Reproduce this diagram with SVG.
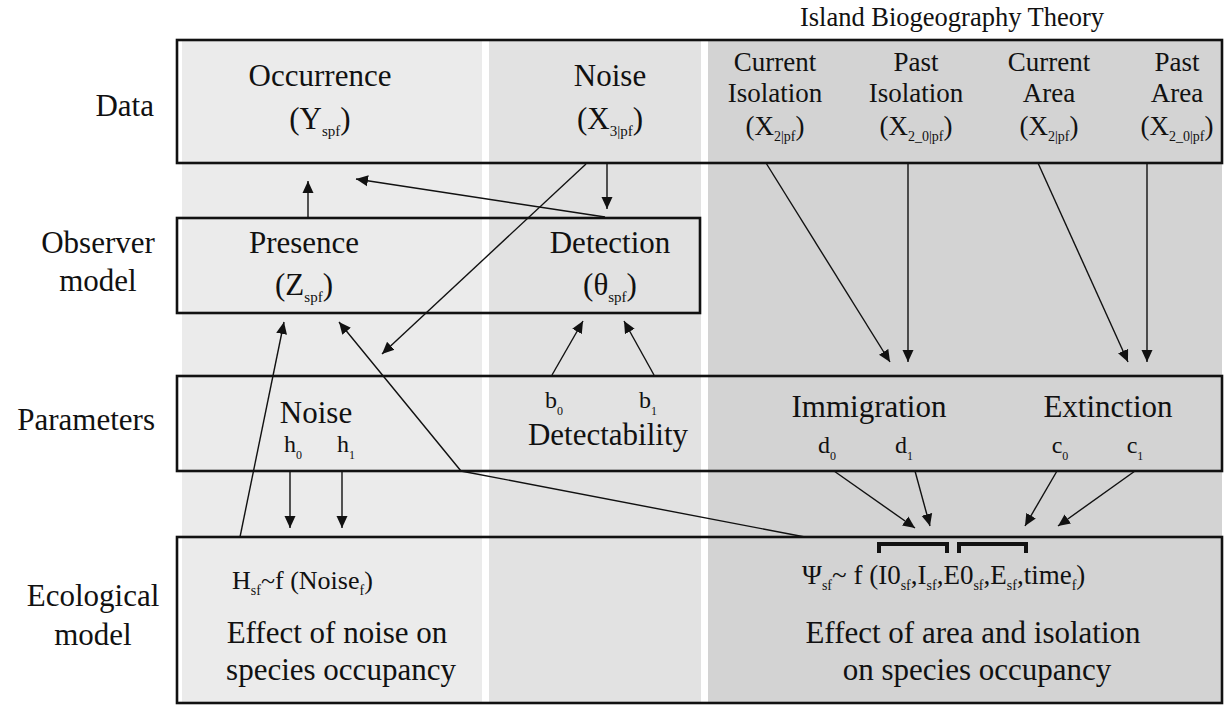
<svg xmlns="http://www.w3.org/2000/svg" width="1225" height="706" viewBox="0 0 1225 706">
<style>
text{font-family:"Liberation Serif","Times New Roman",serif;fill:#111}
.L{font-size:31px}
.M{font-size:27px}
.S{font-size:26.5px}
.F{font-size:26px}
.G{font-size:27px}
.P{font-size:24px}
.s1{font-size:15px}
.s2{font-size:14px}
.s3{font-size:12px}
.mid{text-anchor:middle}
.end{text-anchor:end}
.box{fill:none;stroke:#111;stroke-width:2.6}
.c{fill:none;stroke:#111;stroke-width:1.4}
.br{fill:none;stroke:#111;stroke-width:4}
</style>
<defs>
<marker id="ah" markerUnits="userSpaceOnUse" markerWidth="12" markerHeight="12" refX="12" refY="6" orient="auto"><path d="M0,0.5 L12,6 L0,11.5 z" fill="#111"/></marker>
</defs>
<rect width="1225" height="706" fill="#fff"/>
<g id="columns">
<rect x="182" y="40" width="300" height="663" fill="#ebebeb"/>
<rect x="489" y="40" width="212" height="663" fill="#e2e2e2"/>
<rect x="708" y="40" width="514" height="663" fill="#d3d3d3"/>
</g>
<g id="row-labels">
<text class="L end" x="154" y="116">Data</text>
<text class="L mid" x="98" y="253">Observer</text>
<text class="L mid" x="98" y="291">model</text>
<text class="L end" x="155" y="430">Parameters</text>
<text class="L mid" x="93" y="606">Ecological</text>
<text class="L mid" x="93" y="645">model</text>
</g>
<g id="ibt-title"><text class="S mid" x="952" y="26">Island Biogeography Theory</text></g>
<g id="data">
<rect class="box" x="177" y="40" width="1045" height="123"/>
<g id="occurrence">
<text class="L mid" x="320" y="86">Occurrence</text>
<text class="L mid" x="320" y="129">(Y<tspan class="s1" dy="7">spf</tspan><tspan dy="-7">)</tspan></text>
</g>
<g id="noise-data">
<text class="L mid" x="610" y="86">Noise</text>
<text class="L mid" x="610" y="129">(X<tspan class="s1" dy="7">3|pf</tspan><tspan dy="-7">)</tspan></text>
</g>
<g id="current-isolation">
<text class="M mid" x="775" y="71">Current</text>
<text class="M mid" x="775" y="102">Isolation</text>
<text class="M mid" x="775" y="135">(X<tspan class="s2" dy="6">2|pf</tspan><tspan dy="-6">)</tspan></text>
</g>
<g id="past-isolation">
<text class="M mid" x="916" y="71">Past</text>
<text class="M mid" x="916" y="102">Isolation</text>
<text class="M mid" x="916" y="135">(X<tspan class="s2" dy="6">2_0|pf</tspan><tspan dy="-6">)</tspan></text>
</g>
<g id="current-area">
<text class="M mid" x="1049" y="71">Current</text>
<text class="M mid" x="1049" y="102">Area</text>
<text class="M mid" x="1049" y="135">(X<tspan class="s2" dy="6">2|pf</tspan><tspan dy="-6">)</tspan></text>
</g>
<g id="past-area">
<text class="M mid" x="1177" y="71">Past</text>
<text class="M mid" x="1177" y="102">Area</text>
<text class="M mid" x="1177" y="135">(X<tspan class="s2" dy="6">2_0|pf</tspan><tspan dy="-6">)</tspan></text>
</g>
</g>
<g id="observer">
<rect class="box" x="177" y="218" width="523" height="95"/>
<g id="presence">
<text class="L mid" x="304" y="253">Presence</text>
<text class="L mid" x="304" y="295">(Z<tspan class="s1" dy="7">spf</tspan><tspan dy="-7">)</tspan></text>
</g>
<g id="detection">
<text class="L mid" x="610" y="253">Detection</text>
<text class="L mid" x="610" y="295">(θ<tspan class="s1" dy="7">spf</tspan><tspan dy="-7">)</tspan></text>
</g>
</g>
<g id="parameters">
<rect class="box" x="177" y="376" width="1045" height="95"/>
<g id="noise-param">
<text class="L mid" x="316" y="423">Noise</text>
<text class="P mid" x="293" y="452">h<tspan class="s3" dy="7">0</tspan></text>
<text class="P mid" x="346" y="452">h<tspan class="s3" dy="7">1</tspan></text>
</g>
<g id="detectability">
<text class="P mid" x="554" y="408">b<tspan class="s3" dy="7">0</tspan></text>
<text class="P mid" x="648" y="408">b<tspan class="s3" dy="7">1</tspan></text>
<text class="L mid" x="608" y="445">Detectability</text>
</g>
<g id="immigration">
<text class="L mid" x="869" y="417">Immigration</text>
<text class="P mid" x="827" y="453">d<tspan class="s3" dy="7">0</tspan></text>
<text class="P mid" x="904" y="453">d<tspan class="s3" dy="7">1</tspan></text>
</g>
<g id="extinction">
<text class="L mid" x="1108" y="417">Extinction</text>
<text class="P mid" x="1060" y="453">c<tspan class="s3" dy="7">0</tspan></text>
<text class="P mid" x="1135" y="453">c<tspan class="s3" dy="7">1</tspan></text>
</g>
</g>
<g id="ecological">
<rect class="box" x="177" y="537" width="1045" height="166"/>
<g id="noise-effect">
<text class="F" x="232" y="589">H<tspan class="s2" dy="6">sf</tspan><tspan dy="-6">~f (Noise</tspan><tspan class="s2" dy="6">f</tspan><tspan dy="-6">)</tspan></text>
<text class="L mid" x="337" y="643">Effect of noise on</text>
<text class="L mid" x="341" y="680">species occupancy</text>
</g>
<g id="area-isolation-effect">
<path class="br" d="M879,553 V544 H947 V553"/>
<path class="br" d="M959,553 V544 H1026 V553"/>
<text class="G" x="802" y="584">Ψ<tspan class="s2" dy="6">sf</tspan><tspan dy="-6">~ f (I0</tspan><tspan class="s2" dy="6">sf</tspan><tspan dy="-6">,I</tspan><tspan class="s2" dy="6">sf</tspan><tspan dy="-6">,E0</tspan><tspan class="s2" dy="6">sf</tspan><tspan dy="-6">,E</tspan><tspan class="s2" dy="6">sf</tspan><tspan dy="-6">,time</tspan><tspan class="s2" dy="6">f</tspan><tspan dy="-6">)</tspan></text>
<text class="L mid" x="973" y="643">Effect of area and isolation</text>
<text class="L mid" x="977" y="680">on species occupancy</text>
</g>
</g>
<g id="connectors">
<path class="c" marker-end="url(#ah)" d="M308,218 V181"/>
<path class="c" marker-end="url(#ah)" d="M605,217 L356,179"/>
<path class="c" marker-end="url(#ah)" d="M607,163 V209"/>
<path class="c" marker-end="url(#ah)" d="M586,164 L382,354"/>
<path class="c" marker-end="url(#ah)" d="M552,375 L583,321"/>
<path class="c" marker-end="url(#ah)" d="M654,375 L624,321"/>
<path class="c" marker-end="url(#ah)" d="M240,537 L284,322"/>
<path class="c" marker-end="url(#ah)" d="M805,537 L461,471 L339,322"/>
<path class="c" marker-end="url(#ah)" d="M290,471 V528"/>
<path class="c" marker-end="url(#ah)" d="M342,471 V528"/>
<path class="c" marker-end="url(#ah)" d="M766,163 L890,362"/>
<path class="c" marker-end="url(#ah)" d="M908,163 V362"/>
<path class="c" marker-end="url(#ah)" d="M1038,163 L1128,362"/>
<path class="c" marker-end="url(#ah)" d="M1147,163 V362"/>
<path class="c" marker-end="url(#ah)" d="M834,471 L915,528"/>
<path class="c" marker-end="url(#ah)" d="M915,471 L930,526"/>
<path class="c" marker-end="url(#ah)" d="M1057,471 L1025,526"/>
<path class="c" marker-end="url(#ah)" d="M1135,471 L1058,526"/>
</g>
</svg>
